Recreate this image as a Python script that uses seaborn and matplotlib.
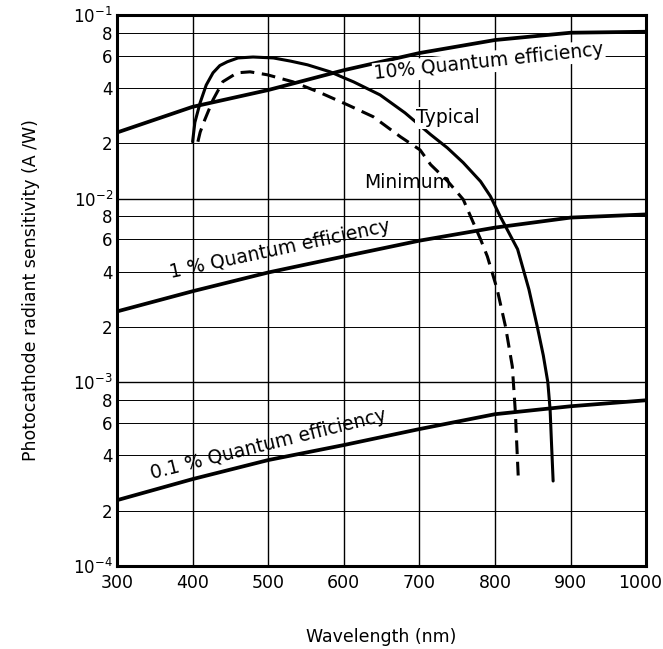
import numpy as np
import pandas as pd
import matplotlib
matplotlib.use("Agg")
import matplotlib.pyplot as plt
import matplotlib.transforms as mtransforms
import seaborn as sns

# --- data ---
qe_wavelength = [300, 400, 500, 600, 700, 800, 900, 1000]
qe10 = [0.0229, 0.0316, 0.0390, 0.0500, 0.0620, 0.0730, 0.0800, 0.0810]
qe1 = [0.00243, 0.00313, 0.00396, 0.00484, 0.00590, 0.00695, 0.00788, 0.00820]
qe01 = [0.000228, 0.000297, 0.000377, 0.000455, 0.000556, 0.000670, 0.000740, 0.000798]

typ_wavelength = [400, 403, 410, 418, 427, 436, 446, 460, 480, 507, 530, 552, 582, 600, 613, 648, 681,
                  715, 737, 758, 781, 794, 807, 830, 845, 856, 864, 870, 873, 875, 877]
typ_values = [0.0204, 0.0260, 0.0333, 0.0415, 0.0484, 0.0530, 0.0556, 0.0583, 0.0590, 0.0583, 0.0560,
              0.0535, 0.0490, 0.0455, 0.0432, 0.0367, 0.0293, 0.0223, 0.0189, 0.0157, 0.0124, 0.0103,
              0.0080, 0.0053, 0.0032, 0.00201, 0.00140, 0.00100, 0.00071, 0.00045, 0.000290]

min_wavelength = [407, 410, 416, 427, 440, 459, 476, 499, 533, 569, 605, 639, 675, 701, 715, 737, 758,
                  781, 790, 803, 814, 823, 827, 829, 831]
min_values = [0.0204, 0.0230, 0.0268, 0.0345, 0.0433, 0.0484, 0.0490, 0.0472, 0.0432, 0.0377, 0.0324,
              0.0279, 0.0217, 0.0184, 0.0153, 0.0125, 0.0099, 0.0060, 0.00484, 0.00320, 0.00201,
              0.00122, 0.00069, 0.00045, 0.000297]

x_ticks = [300, 400, 500, 600, 700, 800, 900, 1000]
decades = [1e-4, 1e-3, 1e-2, 1e-1]
decade_labels = ["$10^{-4}$", "$10^{-3}$", "$10^{-2}$", "$10^{-1}$"]
minor_mult = [2, 4, 6, 8]

sns.set_theme(style="white")
plt.rcParams['font.family'] = ['DejaVu Sans']
plt.rcParams['text.color'] = 'black'
plt.rcParams['axes.labelcolor'] = 'black'

fig = plt.figure(figsize=(6.63, 6.49), dpi=100)
ax = fig.add_axes([0.1765, 0.128, 0.798, 0.849])

qe_df = pd.DataFrame({"wl": qe_wavelength, "q10": qe10, "q1": qe1, "q01": qe01})
typ_df = pd.DataFrame({"wl": typ_wavelength, "s": typ_values})
min_df = pd.DataFrame({"wl": min_wavelength, "s": min_values})

for col in ["q10", "q1", "q01"]:
    sns.lineplot(data=qe_df, x="wl", y=col, ax=ax, color="black", lw=2.7, zorder=3)
sns.lineplot(data=typ_df, x="wl", y="s", ax=ax, color="black", lw=2.2, zorder=3)
sns.lineplot(data=min_df, x="wl", y="s", ax=ax, color="black", lw=2.2, zorder=3)
ax.lines[-1].set_dashes([4.5, 2.5])
for ln in ax.lines:
    ln.set_solid_joinstyle("round")
    ln.set_dash_joinstyle("round")

ax.set_yscale("log")
ax.set_xlim(300, 1000)
ax.set_ylim(1e-4, 1e-1)

ax.set_xticks(x_ticks)
ax.set_xticklabels([str(v) for v in x_ticks], fontsize=12.5)
ax.set_yticks(decades)
ax.set_yticklabels(decade_labels, fontsize=12)
minor = [m * d for d in decades[:-1] for m in minor_mult]
ax.set_yticks(minor, minor=True)
ax.set_yticklabels([str(m) for d in decades[:-1] for m in minor_mult], minor=True, fontsize=12)
ax.tick_params(axis="both", which="both", length=0, pad=3, colors="black")
ax.tick_params(axis="x", pad=6)
last = ax.get_xticklabels()[-1]
last.set_transform(last.get_transform() + mtransforms.ScaledTranslation(-0.06, 0, fig.dpi_scale_trans))
for lab in ax.get_yticklabels(minor=True):
    lab.set_transform(lab.get_transform() + mtransforms.ScaledTranslation(0, 0.02, fig.dpi_scale_trans)) if False else None

ax.grid(True, which="major", color="black", lw=1.0)
ax.grid(True, which="minor", axis="y", color="black", lw=0.7)
for s in ax.spines.values():
    s.set_color("black")
    s.set_linewidth(2.2)

ax.set_xlabel("Wavelength (nm)", fontsize=12.5, labelpad=26)
ax.set_ylabel("Photocathode radiant sensitivity (A /W)", fontsize=12.5, labelpad=24)

bb = dict(facecolor="white", edgecolor="none", pad=1.0)
ax.text(792, 0.0555, "10% Quantum efficiency", fontsize=13.5, rotation=6, ha="center", va="center", bbox=bb, zorder=4)
ax.text(738, 0.0275, "Typical", fontsize=13.5, ha="center", va="center", bbox=bb, zorder=4)
ax.text(685, 0.0122, "Minimum", fontsize=13.5, ha="center", va="center", zorder=4)
ax.text(516, 0.0053, "1 % Quantum efficiency", fontsize=13.5, rotation=12, ha="center", va="center", zorder=4)
ax.text(500, 0.00046, "0.1 % Quantum efficiency", fontsize=13.5, rotation=14, ha="center", va="center", zorder=4)

fig.savefig("out.png", dpi=100)
